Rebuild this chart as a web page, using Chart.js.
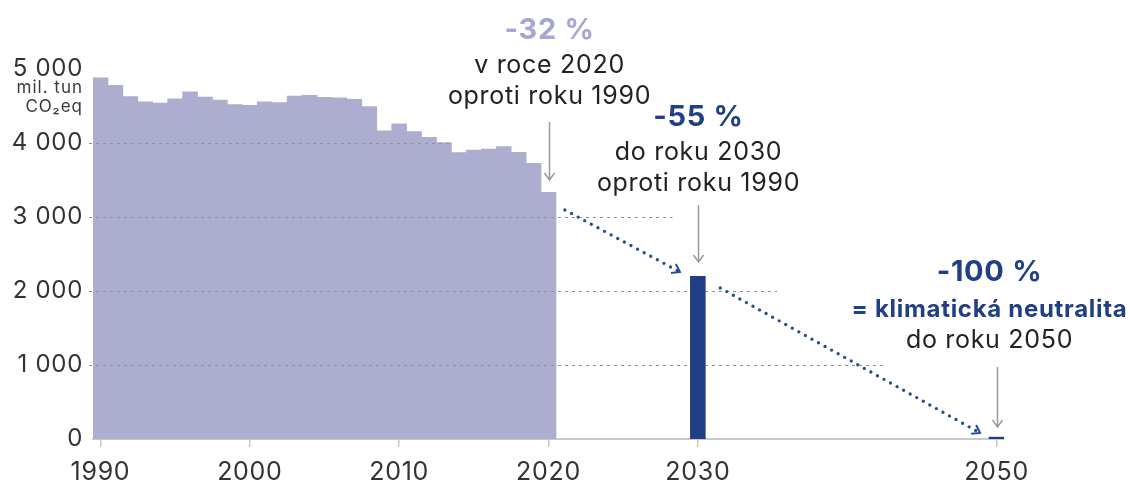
<!DOCTYPE html>
<html>
<head>
<meta charset="utf-8">
<script src="https://cdn.jsdelivr.net/npm/chart.js@4"></script>
<style>
html, body { margin: 0; padding: 0; background: #fff; }
#wrap { width: 1131px; height: 482px; position: relative; }
</style>
</head>
<body>
<div id="wrap"><canvas id="myChart"></canvas></div>
<script>
// historic emissions, mil. tun CO2eq
var years = [1990, 1991, 1992, 1993, 1994, 1995, 1996, 1997, 1998, 1999,
             2000, 2001, 2002, 2003, 2004, 2005, 2006, 2007, 2008, 2009,
             2010, 2011, 2012, 2013, 2014, 2015, 2016, 2017, 2018, 2019, 2020]
var emissions = [4882, 4780, 4626, 4555, 4540, 4597, 4690, 4620, 4581, 4518,
                 4509, 4558, 4545, 4635, 4645, 4618, 4612, 4591, 4491, 4166,
                 4260, 4153, 4077, 4004, 3869, 3905, 3919, 3950, 3874, 3726, 3334]

// targets
var targetYears = [2030, 2050]
var targetValues = [2197, 25]

// dotted trend arrows
var pathYears1 = [2021.1, 2028.8]
var pathValues1 = [3095, 2257]
var pathYears2 = [2031.5, 2048.9]
var pathValues2 = [2041, 81]

var xTickYears = [1990, 2000, 2010, 2020, 2030, 2050]
var yTickValues = [0, 1000, 2000, 3000, 4000, 5000]
// where each dashed gridline stops (year)
var gridEnds = [2042.5, 2035.3, 2028.3, 2013.5]

var noteYears = [2020, 2030, 2050]
var noteTexts = [
    ['-32 %', 'v roce 2020', 'oproti roku 1990'],
    ['-55 %', 'do roku 2030', 'oproti roku 1990'],
    ['-100 %', '= klimatická neutralita', 'do roku 2050']
]
var unitLines = ['mil. tun', 'CO₂eq']

var LAVENDER = '#a6a5d3'
var BARS = '#adadcf'
var NAVY = '#213f86'
var DOTS = '#2b4c97'

// per note: arrow top/bottom (value), text shift, and text line style
var noteArrows = [[4284, 3500], [3162, 2392], [973, 162]]
var noteShift = [0, 0, -8]
var noteStyles = [
    [{ dy: -92, size: 29, bold: true, color: LAVENDER }, { dy: -56, size: 25 }, { dy: -25, size: 25 }],
    [{ dy: -88, size: 29, bold: true, color: NAVY }, { dy: -53, size: 25 }, { dy: -22, size: 25 }],
    [{ dy: -95, size: 29, bold: true, color: NAVY }, { dy: -57, size: 24, bold: true, color: NAVY }, { dy: -27, size: 25 }]
]

Chart.defaults.font.family = 'Inter, "Noto Sans", sans-serif'

function toPoints(xs, ys) {
    var out = []
    for (var i = 0; i < xs.length; i++) out.push({ x: xs[i], y: ys[i] })
    return out
}

function formatThousands(v) {
    if (v >= 1000) return Math.floor(v / 1000) + ' ' + String(v % 1000).padStart(3, '0')
    return String(v)
}

function drawChevron(ctx, p0, p1) {
    var ang = Math.atan2(p1.y - p0.y, p1.x - p0.x)
    var len = 9
    ctx.save()
    ctx.strokeStyle = DOTS
    ctx.lineWidth = 2
    ctx.beginPath()
    ctx.moveTo(p1.x - len * Math.cos(ang - 0.6), p1.y - len * Math.sin(ang - 0.6))
    ctx.lineTo(p1.x, p1.y)
    ctx.lineTo(p1.x - len * Math.cos(ang + 0.6), p1.y - len * Math.sin(ang + 0.6))
    ctx.stroke()
    ctx.restore()
}

var gridPlugin = {
    id: 'dashedGrid',
    beforeDraw(chart) {
        chart.ctx.letterSpacing = '0.7px'
    },
    // gridlines go over the historic bars but under the target bars
    beforeDatasetDraw(chart, args) {
        if (args.index !== 1) return
        var ctx = chart.ctx, x = chart.scales.x, y = chart.scales.y
        ctx.save()
        ctx.strokeStyle = '#8e8e9c'
        ctx.lineWidth = 1
        ctx.setLineDash([3, 4])
        for (var i = 0; i < gridEnds.length; i++) {
            var py = Math.round(y.getPixelForValue((i + 1) * 1000)) + 0.5
            ctx.beginPath()
            ctx.moveTo(chart.chartArea.left - 4, py)
            ctx.lineTo(x.getPixelForValue(gridEnds[i]), py)
            ctx.stroke()
        }
        ctx.restore()
    },
    afterDatasetsDraw(chart) {
        var ctx = chart.ctx, x = chart.scales.x, y = chart.scales.y
        // chevrons on the dotted lines
        ;[2, 3].forEach(function (di) {
            var pts = chart.getDatasetMeta(di).data
            drawChevron(ctx, pts[0], pts[pts.length - 1])
        })
        // unit label
        ctx.save()
        ctx.fillStyle = '#3a3a3a'
        ctx.font = '17px Inter'
        ctx.letterSpacing = '1px'
        ctx.textAlign = 'right'
        ctx.textBaseline = 'alphabetic'
        var top = y.getPixelForValue(5000)
        ctx.fillText(unitLines[0], 83, top + 24)
        ctx.fillText(unitLines[1], 83, top + 43)
        ctx.restore()
        // notes with grey arrows
        for (var n = 0; n < noteYears.length; n++) {
            var px = Math.round(x.getPixelForValue(noteYears[n])) + 0.5
            var y0 = y.getPixelForValue(noteArrows[n][0])
            var y1 = y.getPixelForValue(noteArrows[n][1])
            ctx.save()
            ctx.strokeStyle = '#9a9a9a'
            ctx.lineWidth = 1.5
            ctx.beginPath()
            ctx.moveTo(px, y0)
            ctx.lineTo(px, y1)
            ctx.moveTo(px - 5, y1 - 7)
            ctx.lineTo(px, y1)
            ctx.lineTo(px + 5, y1 - 7)
            ctx.stroke()
            ctx.textAlign = 'center'
            ctx.textBaseline = 'middle'
            for (var k = 0; k < noteTexts[n].length; k++) {
                var st = noteStyles[n][k]
                ctx.font = (st.bold ? 'bold ' : '') + st.size + 'px Inter'
                ctx.fillStyle = st.color || '#222'
                ctx.fillText(noteTexts[n][k], px + noteShift[n], y0 + st.dy)
            }
            ctx.restore()
        }
    }
}

let myChart = document.getElementById('myChart').getContext('2d')
let emissionsChart = new Chart(myChart, {
    type: 'bar',
    data: {
        datasets: [{
            label: 'Emise',
            data: toPoints(years, emissions),
            backgroundColor: BARS,
            borderWidth: 0,
            grouped: false,
            barPercentage: 1,
            categoryPercentage: 1,
            order: 2
        }, {
            label: 'Cíle',
            data: toPoints(targetYears, targetValues),
            backgroundColor: NAVY,
            borderWidth: 0,
            grouped: false,
            barPercentage: 1,
            categoryPercentage: 1,
            order: 1
        }, {
            type: 'line',
            data: toPoints(pathYears1, pathValues1),
            borderColor: DOTS,
            borderWidth: 3.4,
            borderDash: [0, 7.5],
            borderCapStyle: 'round',
            pointRadius: 0,
            fill: false,
            order: 0
        }, {
            type: 'line',
            data: toPoints(pathYears2, pathValues2),
            borderColor: DOTS,
            borderWidth: 3.4,
            borderDash: [0, 7.5],
            borderCapStyle: 'round',
            pointRadius: 0,
            fill: false,
            order: 0
        }]
    },
    options: {
        responsive: true,
        maintainAspectRatio: false,
        animation: false,
        layout: { padding: { top: 69, right: 127, left: 0, bottom: 0 } },
        plugins: { legend: { display: false }, tooltip: { enabled: false } },
        scales: {
            x: {
                type: 'linear',
                min: 1989.5,
                max: 2050.5,
                offset: false,
                afterFit: function (scale) { scale.height = 43 },
                afterBuildTicks: function (scale) {
                    scale.ticks = xTickYears.map(function (v) { return { value: v } })
                },
                grid: { display: true, offset: false, drawOnChartArea: false, drawTicks: true, tickLength: 8, color: '#c8c8c8', lineWidth: 1.5 },
                border: { display: true, color: '#c8c8c8', width: 2 },
                ticks: {
                    autoSkip: false,
                    maxRotation: 0,
                    padding: 10,
                    color: '#333',
                    font: { size: 25 },
                    callback: function (v) { return String(v) }
                }
            },
            y: {
                min: 0,
                max: 5000,
                afterFit: function (scale) { scale.width = 93 },
                afterBuildTicks: function (scale) {
                    scale.ticks = yTickValues.map(function (v) { return { value: v } })
                },
                grid: { display: false, drawTicks: false },
                border: { display: false },
                ticks: {
                    padding: 10,
                    color: '#333',
                    font: { size: 24 },
                    callback: function (v) { return formatThousands(v) }
                }
            }
        }
    },
    plugins: [gridPlugin]
});
</script>
</body>
</html>
